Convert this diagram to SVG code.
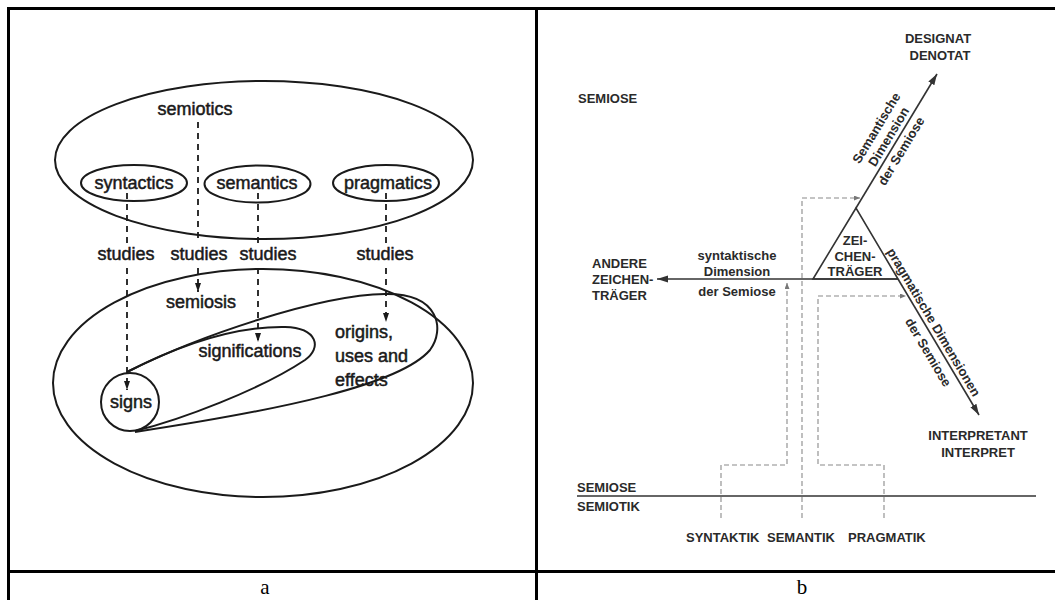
<svg xmlns="http://www.w3.org/2000/svg" width="1055" height="600" viewBox="0 0 1055 600">
<defs>
<style>
.frame{stroke:#000;stroke-width:3;fill:none}
.lbl{font-family:"Liberation Serif","Times New Roman",serif;font-size:21px;fill:#000;text-anchor:middle}
.ta{font-family:"Liberation Sans",Arial,sans-serif;font-size:18px;fill:#1a1a1a;stroke:#1a1a1a;stroke-width:0.5}
.c{text-anchor:middle}
.sh{fill:none;stroke:#1a1a1a;stroke-width:2}
.da{fill:none;stroke:#1a1a1a;stroke-width:1.8;stroke-dasharray:6 5}
.tb{font-family:"Liberation Sans",Arial,sans-serif;font-size:13px;font-weight:bold;fill:#2a2a2a}
.sol{fill:none;stroke:#333;stroke-width:1.6}
.db{fill:none;stroke:#8a8a8a;stroke-width:1.1;stroke-dasharray:5 3}
</style>
<marker id="ha" markerUnits="userSpaceOnUse" markerWidth="10" markerHeight="8" refX="9" refY="3" orient="auto"><path d="M0,0 L9,3 L0,6 z" fill="#1a1a1a"/></marker>
<marker id="hb" markerUnits="userSpaceOnUse" markerWidth="12" markerHeight="8" refX="11" refY="3.5" orient="auto"><path d="M0,0 L11,3.5 L0,7 z" fill="#333"/></marker>
<marker id="hc" markerUnits="userSpaceOnUse" markerWidth="7" markerHeight="6" refX="6" refY="2.5" orient="auto"><path d="M0,0 L6,2.5 L0,5 z" fill="#777"/></marker>
</defs>
<rect x="0" y="0" width="1055" height="600" fill="#fff"/>

<g id="table">
<path class="frame" d="M7,8.5 H1055 M8.5,7 V600 M536.5,7 V600 M7,571.5 H1055"/>
<text class="lbl" x="265" y="594">a</text>
<text class="lbl" x="802" y="594">b</text>
</g>

<!-- Panel a -->
<g id="semiotics">
<ellipse class="sh" cx="264" cy="160" rx="209" ry="79"/>
<text class="ta c" x="195" y="115">semiotics</text>
</g>
<g id="syntactics">
<ellipse class="sh" cx="134" cy="183" rx="53" ry="18"/>
<text class="ta c" x="134" y="189">syntactics</text>
</g>
<g id="semantics">
<ellipse class="sh" cx="257.5" cy="184" rx="53" ry="18.5"/>
<text class="ta c" x="257" y="189">semantics</text>
</g>
<g id="pragmatics">
<ellipse class="sh" cx="386" cy="183" rx="53" ry="18"/>
<text class="ta c" x="388" y="189">pragmatics</text>
</g>
<g id="semiosis">
<ellipse class="sh" cx="263" cy="383" rx="210" ry="114"/>
<text class="ta c" x="201" y="308">semiosis</text>
</g>
<g id="origins">
<path class="sh" d="M127,372 C200,335 320,295 385,294 C440,293 445,330 430,350 C400,385 280,410 135,432"/>
<text class="ta" x="335" y="338">origins,</text>
<text class="ta" x="335" y="362">uses and</text>
<text class="ta" x="335" y="386">effects</text>
</g>
<g id="significations">
<path class="sh" d="M127,372 C170,350 230,326 285,327 C318,328 322,348 305,360 C260,390 180,420 135,431"/>
<text class="ta c" x="250" y="357">significations</text>
</g>
<g id="signs">
<circle class="sh" cx="130" cy="402" r="29"/>
<text class="ta c" x="131" y="408">signs</text>
</g>
<g id="studies-labels">
<text class="ta c" x="126" y="260">studies</text>
<text class="ta c" x="199" y="260">studies</text>
<text class="ta c" x="268" y="260">studies</text>
<text class="ta c" x="385" y="260">studies</text>
</g>
<g id="connectors-a">
<path class="da" d="M127,193 V243 M127,268 V390" marker-end="url(#ha)"/>
<path class="da" d="M198,122 V243 M198,268 V292" marker-end="url(#ha)"/>
<path class="da" d="M258,193 V243 M258,268 V342" marker-end="url(#ha)"/>
<path class="da" d="M386,193 V243 M386,268 V322" marker-end="url(#ha)"/>
</g>

<!-- Panel b -->
<g id="semiose-label">
<text class="tb" x="578" y="103">SEMIOSE</text>
</g>
<g id="designat">
<text class="tb c" x="938" y="43">DESIGNAT</text>
<text class="tb c" x="940" y="60">DENOTAT</text>
</g>
<g id="andere">
<text class="tb" x="592" y="268">ANDERE</text>
<text class="tb" x="592" y="284">ZEICHEN-</text>
<text class="tb" x="592" y="300">TRÄGER</text>
</g>
<g id="zeichentraeger">
<polygon class="sol" points="856,208 813,279 898,279"/>
<text class="tb c" x="855" y="245">ZEI-</text>
<text class="tb c" x="855" y="261">CHEN-</text>
<text class="tb c" x="855" y="276">TRÄGER</text>
</g>
<g id="interpretant">
<text class="tb c" x="978" y="440">INTERPRETANT</text>
<text class="tb c" x="978" y="457">INTERPRET</text>
</g>
<g id="semiotik">
<text class="tb" x="577" y="492">SEMIOSE</text>
<text class="tb" x="577" y="511">SEMIOTIK</text>
<text class="tb" x="686" y="542">SYNTAKTIK</text>
<text class="tb" x="767" y="542">SEMANTIK</text>
<text class="tb" x="848" y="542">PRAGMATIK</text>
</g>
<g id="dimension-labels">
<text class="tb c" x="737" y="260">syntaktische</text>
<text class="tb c" x="737" y="276">Dimension</text>
<text class="tb c" x="737" y="296">der Semiose</text>
<text class="tb c" transform="translate(880.2,130.3) rotate(-58.83)">Semantische</text>
<text class="tb c" transform="translate(892.5,139) rotate(-58.83)">Dimension</text>
<text class="tb c" transform="translate(904.9,153.4) rotate(-58.83)">der Semiose</text>
<text class="tb c" transform="translate(929.9,324.6) rotate(59.28)">pragmatische Dimensionen</text>
<text class="tb c" transform="translate(924.4,354.6) rotate(59.28)">der Semiose</text>
</g>
<g id="connectors-b">
<path class="sol" d="M856,208 L937,74" marker-end="url(#hb)"/>
<path class="sol" d="M898,279 L979,415" marker-end="url(#hb)"/>
<path class="sol" d="M898,279 H657" marker-end="url(#hb)"/>
<path class="sol" d="M577,496 H1036" stroke-width="2"/>
<path class="db" d="M721,518 V465 H787 V283" marker-end="url(#hc)"/>
<path class="db" d="M802,518 V198 H860" marker-end="url(#hc)"/>
<path class="db" d="M884,518 V465 H818 V296 H906" marker-end="url(#hc)"/>
</g>
</svg>
